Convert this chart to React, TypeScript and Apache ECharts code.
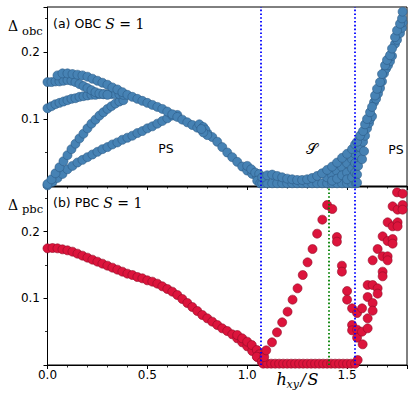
import React, { useEffect, useRef } from "react";
import * as echarts from "echarts";

// ---------- DATA ----------
// x ticks / y ticks
const xLabelTicks = [0.0, 0.5, 1.0, 1.5];
const yLabelTicks = [0.1, 0.2];
const xMax = 1.8;
const yMax = 0.267;

// critical fields (vertical dotted lines)
const blueLines = [1.07, 1.54];
const greenLines = [1.41];

// (a) OBC branches
const obcUpper: number[][] = [
  [0.05, 0.165], [0.075, 0.168], [0.1, 0.168], [0.125, 0.167], [0.15, 0.166], [0.175, 0.165],
  [0.2, 0.163], [0.225, 0.16], [0.25, 0.157], [0.275, 0.154], [0.3, 0.151], [0.325, 0.147],
  [0.35, 0.144], [0.375, 0.14], [0.4, 0.136], [0.425, 0.133], [0.45, 0.13], [0.475, 0.127],
  [0.5, 0.124], [0.525, 0.121], [0.55, 0.118], [0.575, 0.115], [0.6, 0.111], [0.625, 0.107],
  [0.65, 0.103], [0.675, 0.099], [0.7, 0.095], [0.725, 0.091], [0.75, 0.087], [0.775, 0.083],
  [0.8, 0.079], [0.825, 0.073], [0.85, 0.066], [0.875, 0.058], [0.9, 0.05], [0.925, 0.043],
  [0.95, 0.036], [0.975, 0.029], [1.0, 0.023], [1.025, 0.018], [1.05, 0.014], [1.075, 0.012],
];
const obcCluster: number[][] = [
  [0.76, 0.092], [0.78, 0.088], [0.79, 0.084], [0.8, 0.076], [0.78, 0.08], [0.77, 0.085],
  [1.0, 0.03], [1.02, 0.025], [1.04, 0.02], [1.06, 0.018], [1.05, 0.008], [1.065, 0.004],
];
const obcTopRow: number[][] = [
  [0, 0.155], [0.02, 0.155], [0.04, 0.156], [0.06, 0.156], [0.08, 0.157], [0.1, 0.158],
  [0.12, 0.157], [0.14, 0.155], [0.16, 0.152], [0.18, 0.149], [0.2, 0.146], [0.22, 0.143],
  [0.24, 0.14], [0.26, 0.138], [0.28, 0.137], [0.3, 0.136],
];
const obcMiddle: number[][] = [
  [0, 0.116], [0.02, 0.119], [0.04, 0.122], [0.06, 0.124], [0.08, 0.126], [0.1, 0.128],
  [0.12, 0.13], [0.14, 0.131], [0.16, 0.133], [0.18, 0.134], [0.2, 0.135], [0.22, 0.136],
  [0.24, 0.136], [0.26, 0.137], [0.28, 0.137], [0.3, 0.137], [0.32, 0.137], [0.34, 0.137],
  [0.36, 0.137], [0.38, 0.136],
];
const obcSteep: number[][] = [
  [0, 0.003], [0.02, 0.01], [0.04, 0.019], [0.06, 0.028], [0.08, 0.037], [0.1, 0.046],
  [0.12, 0.055], [0.14, 0.063], [0.16, 0.071], [0.18, 0.078], [0.2, 0.086], [0.22, 0.093],
  [0.24, 0.099], [0.26, 0.105], [0.28, 0.11], [0.3, 0.115], [0.32, 0.119], [0.34, 0.123],
  [0.36, 0.126], [0.38, 0.128],
];
const obcShallow: number[][] = [
  [0, 0.001], [0.025, 0.006], [0.05, 0.012], [0.075, 0.018], [0.1, 0.025], [0.125, 0.03],
  [0.15, 0.035], [0.175, 0.039], [0.2, 0.043], [0.225, 0.047], [0.25, 0.051], [0.275, 0.055],
  [0.3, 0.058], [0.325, 0.062], [0.35, 0.065], [0.375, 0.069], [0.4, 0.072], [0.425, 0.075],
  [0.45, 0.079], [0.475, 0.082], [0.5, 0.086], [0.525, 0.089], [0.55, 0.093], [0.575, 0.097],
  [0.6, 0.101], [0.625, 0.105], [0.65, 0.106],
];
const obcCenterTop: number[][] = [
  [1.075, 0.013], [1.1, 0.016], [1.125, 0.017], [1.15, 0.015], [1.175, 0.013], [1.2, 0.011],
  [1.225, 0.01], [1.25, 0.009], [1.275, 0.009], [1.3, 0.01], [1.325, 0.012], [1.35, 0.015],
  [1.375, 0.019], [1.4, 0.024], [1.425, 0.029], [1.45, 0.035], [1.475, 0.042], [1.5, 0.048],
  [1.525, 0.055], [1.54, 0.062],
];
const obcCenterFill: number[][] = [
  [1.4, 0.013], [1.425, 0.016], [1.425, 0.008], [1.45, 0.022], [1.45, 0.011], [1.475, 0.028],
  [1.475, 0.016], [1.5, 0.034], [1.5, 0.02], [1.5, 0.01], [1.525, 0.04], [1.525, 0.026],
  [1.525, 0.013], [1.54, 0.048], [1.54, 0.034], [1.54, 0.02], [1.55, 0.017], [1.55, 0.005],
];
const obcCenterBottom: number[][] = [
  [1.075, 0.004], [1.1, 0.004], [1.125, 0.004], [1.15, 0.004], [1.175, 0.004], [1.2, 0.004],
  [1.225, 0.004], [1.25, 0.004], [1.275, 0.004], [1.3, 0.004], [1.325, 0.004], [1.35, 0.004],
  [1.375, 0.004], [1.4, 0.004], [1.425, 0.004], [1.45, 0.004], [1.475, 0.004], [1.5, 0.004],
  [1.525, 0.004], [1.545, 0.004],
];
const obcRight: number[][] = [
  [1.55, 0.066], [1.565, 0.075], [1.58, 0.082], [1.59, 0.092], [1.6, 0.1], [1.615, 0.11],
  [1.625, 0.118], [1.64, 0.135], [1.65, 0.145], [1.665, 0.155], [1.675, 0.167], [1.69, 0.18],
  [1.7, 0.188], [1.715, 0.195], [1.725, 0.205], [1.74, 0.222], [1.75, 0.232], [1.765, 0.242],
  [1.775, 0.25], [1.778, 0.26],
];
const obcRightLower: number[][] = [
  [1.555, 0.03], [1.56, 0.045], [1.565, 0.058], [1.575, 0.04], [1.58, 0.066], [1.585, 0.052],
  [1.59, 0.075], [1.6, 0.086], [1.61, 0.094], [1.615, 0.1], [1.625, 0.104], [1.635, 0.125],
  [1.645, 0.13], [1.655, 0.138], [1.665, 0.146], [1.675, 0.156], [1.685, 0.168], [1.695, 0.175],
  [1.705, 0.18], [1.715, 0.186], [1.725, 0.194], [1.74, 0.212], [1.75, 0.218], [1.765, 0.228],
  [1.775, 0.236], [1.778, 0.244],
];

// (b) PBC branches
const pbcMain: number[][] = [
  [0, 0.175], [0.025, 0.1755], [0.05, 0.175], [0.075, 0.1735], [0.1, 0.172], [0.125, 0.17],
  [0.15, 0.167], [0.175, 0.164], [0.2, 0.161], [0.225, 0.158], [0.25, 0.155], [0.275, 0.152],
  [0.3, 0.149], [0.325, 0.146], [0.35, 0.143], [0.375, 0.14], [0.4, 0.137], [0.425, 0.135],
  [0.45, 0.132], [0.475, 0.13], [0.5, 0.127], [0.525, 0.125], [0.55, 0.122], [0.575, 0.118],
  [0.6, 0.114], [0.625, 0.11], [0.65, 0.105], [0.675, 0.099], [0.7, 0.093], [0.725, 0.087],
  [0.75, 0.081], [0.775, 0.075], [0.8, 0.07], [0.825, 0.065], [0.85, 0.06], [0.875, 0.055],
  [0.9, 0.051], [0.925, 0.046], [0.95, 0.04], [0.975, 0.034], [1.0, 0.028], [1.025, 0.021],
  [1.05, 0.012], [1.075, 0.004],
];
const pbcMainUpper: number[][] = [
  [0.95, 0.045], [0.975, 0.04], [1.0, 0.035], [1.023, 0.03], [1.048, 0.0225], [1.06, 0.016],
  [1.073, 0.012], [1.048, 0.0125], [1.073, 0.005],
];
const pbcFlat: number[][] = [
  [1.08, 0.002], [1.1, 0.002], [1.12, 0.002], [1.14, 0.002], [1.16, 0.002], [1.18, 0.002],
  [1.2, 0.002], [1.22, 0.002], [1.24, 0.002], [1.26, 0.002], [1.28, 0.002], [1.3, 0.002],
  [1.32, 0.002], [1.34, 0.002], [1.36, 0.002], [1.38, 0.002], [1.4, 0.002], [1.42, 0.002],
  [1.44, 0.002], [1.46, 0.002], [1.48, 0.002], [1.5, 0.002], [1.52, 0.002], [1.54, 0.002],
  [1.553, 0.0075],
];
const pbcRise: number[][] = [
  [1.085, 0.012], [1.095, 0.022], [1.124, 0.034], [1.149, 0.049], [1.175, 0.064], [1.202, 0.08],
  [1.227, 0.098], [1.252, 0.115], [1.278, 0.135], [1.302, 0.154], [1.327, 0.174], [1.35, 0.197],
  [1.376, 0.218], [1.4, 0.24], [1.426, 0.234],
];
const pbcDrop: number[][] = [
  [1.449, 0.192], [1.449, 0.185], [1.474, 0.149], [1.474, 0.14], [1.5, 0.111], [1.5, 0.098],
  [1.525, 0.085], [1.525, 0.06], [1.525, 0.052], [1.55, 0.078], [1.55, 0.053], [1.55, 0.041],
  [1.575, 0.05], [1.578, 0.031], [1.575, 0.085], [1.603, 0.055], [1.603, 0.07],
];
const pbcRight: number[][] = [
  [1.603, 0.102], [1.603, 0.12], [1.628, 0.12], [1.653, 0.115], [1.653, 0.107], [1.628, 0.093],
  [1.628, 0.0815], [1.628, 0.157], [1.653, 0.174], [1.678, 0.163], [1.678, 0.14], [1.678, 0.133],
  [1.703, 0.163], [1.703, 0.157], [1.678, 0.193], [1.703, 0.186], [1.728, 0.189], [1.728, 0.182],
  [1.703, 0.214], [1.728, 0.208], [1.753, 0.214], [1.753, 0.208], [1.728, 0.238], [1.753, 0.233],
  [1.778, 0.24], [1.778, 0.233], [1.75, 0.259], [1.778, 0.257],
];

const obcSets = [obcShallow, obcSteep, obcMiddle, obcTopRow, obcUpper, obcCluster,
  obcCenterBottom, obcCenterFill, obcCenterTop, obcRightLower, obcRight];
const pbcSets = [pbcMain, pbcMainUpper, pbcFlat, pbcRise, pbcDrop, pbcRight];

// ---------- STYLES ----------
const BLUE = { color: "#4682b4", borderColor: "#2b5a86", borderWidth: 0.6, opacity: 1 };
const RED = { color: "#dc143c", borderColor: "#8e0c27", borderWidth: 0.6, opacity: 1 };
const SANS = "DejaVu Sans";
const SERIF = "DejaVu Serif";

const gridL = 47.5;
const gridR = 8;

function near(v: number, list: number[]) {
  return list.some((t) => Math.abs(v - t) < 1e-6);
}

function xAxes(gridIndex: number, showLabels: boolean) {
  const common = {
    type: "value", gridIndex, min: 0, max: xMax, position: "bottom",
    splitLine: { show: false },
  };
  return [
    {
      ...common, interval: 0.1,
      axisLine: { show: true, onZero: false, lineStyle: { color: "#000", width: 1 } },
      axisTick: { show: true, length: 2.5, lineStyle: { color: "#000", width: 0.8 } },
      axisLabel: {
        show: showLabels, margin: 4, color: "#000", fontFamily: SANS, fontSize: 12,
        formatter: (v: number) => (near(v, xLabelTicks) ? v.toFixed(1) : ""),
      },
    },
    {
      ...common, interval: 0.5,
      axisLine: { show: false },
      axisTick: { show: true, length: 4, lineStyle: { color: "#000", width: 1 } },
      axisLabel: { show: false },
    },
  ];
}

function yAxes(gridIndex: number) {
  const common = {
    type: "value", gridIndex, min: 0, max: yMax, position: "left",
    splitLine: { show: false },
  };
  return [
    {
      ...common, interval: 0.05,
      axisLine: { show: true, onZero: false, lineStyle: { color: "#000", width: 1 } },
      axisTick: { show: true, length: 2.5, lineStyle: { color: "#000", width: 0.8 } },
      axisLabel: {
        show: true, margin: 7.5, color: "#000", fontFamily: SANS, fontSize: 12,
        formatter: (v: number) => (near(v, yLabelTicks) ? v.toFixed(1) : ""),
      },
    },
    {
      ...common, interval: 0.1,
      axisLine: { show: false },
      axisTick: { show: true, length: 4, lineStyle: { color: "#000", width: 1 } },
      axisLabel: { show: false },
    },
  ];
}

function scatter(data: number[][], xi: number, yi: number, style: any, extra: any = {}) {
  return {
    type: "scatter", xAxisIndex: xi, yAxisIndex: yi, data, symbol: "circle",
    symbolSize: 9, clip: false, itemStyle: style, silent: true, ...extra,
  };
}

function vLines(blue: number[], green: number[]) {
  return {
    silent: true, symbol: "none", animation: false, label: { show: false },
    data: [
      ...blue.map((x) => ({ xAxis: x, lineStyle: { color: "#0000ff", width: 1.8, type: [1.6, 2.2] } })),
      ...green.map((x) => ({ xAxis: x, lineStyle: { color: "#008000", width: 1.8, type: [1.6, 2.2] } })),
    ],
  };
}

export default function App() {
  const ref = useRef<HTMLDivElement>(null);
  useEffect(() => {
    if (!ref.current) return;
    const chart = echarts.init(ref.current, null, { renderer: "svg" });
    const series: any[] = [];
    obcSets.forEach((d, i) =>
      series.push(scatter(d, 0, 0, BLUE, i === obcSets.length - 1 ? { markLine: vLines(blueLines, []) } : {}))
    );
    pbcSets.forEach((d, i) =>
      series.push(scatter(d, 2, 2, RED, i === pbcSets.length - 1 ? { markLine: vLines(blueLines, greenLines) } : {}))
    );

    const txt = (x: number, y: number, text: string, size: number, family: string, italic = false, align = "left") => ({
      type: "text", x, y, silent: true, z: 100,
      style: {
        text, fill: "#000", fontSize: size, fontFamily: family,
        fontStyle: italic ? "italic" : "normal", align, verticalAlign: "middle",
      },
    });
    const panelLabel = (x: number, y: number, tag: string) => ({
      type: "text", x, y, silent: true, z: 100,
      style: {
        text: `{a|${tag} }{i|S}{r| = 1}`, verticalAlign: "middle", align: "left",
        rich: {
          a: { fontFamily: SANS, fontSize: 12.5, fill: "#000", verticalAlign: "middle" },
          i: { fontFamily: SERIF, fontSize: 14, fontStyle: "italic", fill: "#000", verticalAlign: "middle" },
          r: { fontFamily: SERIF, fontSize: 14, fill: "#000", verticalAlign: "middle" },
        },
      },
    });

    chart.setOption({
      animation: false,
      backgroundColor: "#fff",
      grid: [
        { left: gridL, right: gridR, top: 7, height: 179, show: true, borderColor: "#000", borderWidth: 1, backgroundColor: "transparent" },
        { left: gridL, right: gridR, top: 187, height: 178, show: true, borderColor: "#000", borderWidth: 1, backgroundColor: "transparent" },
      ],
      xAxis: [...xAxes(0, false), ...xAxes(1, true)],
      yAxis: [...yAxes(0), ...yAxes(1)],
      series,
      graphic: [
        txt(8, 26, "Δ", 14, SERIF),
        txt(22, 31, "obc", 11.5, SERIF),
        panelLabel(53, 23.5, "(a) OBC"),
        txt(166, 148.5, "PS", 12.5, SANS, false, "center"),
        txt(312, 149, "𝒮", 15, SERIF, false, "center"),
        txt(396, 149, "PS", 12.5, SANS, false, "center"),
        txt(8, 204.5, "Δ", 14, SERIF),
        txt(22, 209, "pbc", 11.5, SERIF),
        panelLabel(53, 202.5, "(b) PBC"),
        txt(276.5, 379.5, "h", 16, SERIF, true),
        txt(286.5, 384, "xy", 11, SERIF, true),
        txt(300.5, 379.5, "/", 16, SERIF, true),
        txt(307.5, 379.5, "S", 16, SERIF, true),
      ],
    });
    return () => chart.dispose();
  }, []);
  return (
    <div
      ref={ref}
      style={{ position: "absolute", left: 0, top: 0, width: 415, height: 399 }}
    />
  );
}
